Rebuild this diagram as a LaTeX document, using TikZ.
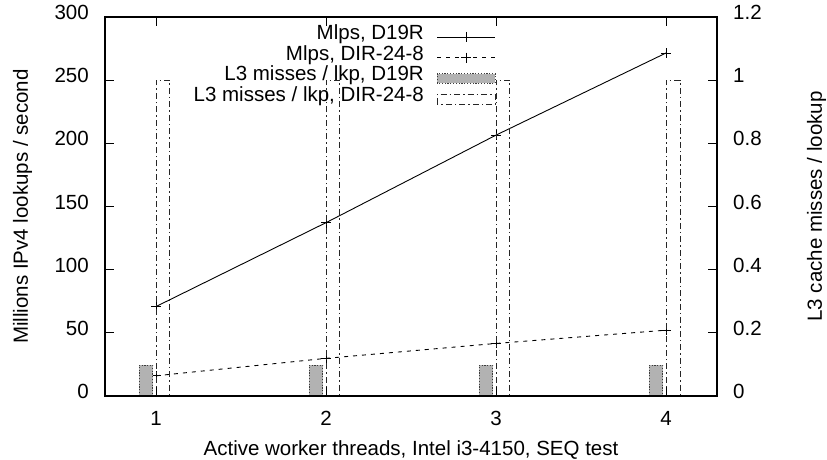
\documentclass[tikz,border=0pt]{standalone}
\usepackage{fontspec}
\setmainfont{Liberation Sans}
\usetikzlibrary{calc}
\definecolor{boxgray}{RGB}{178,178,178}
\definecolor{edgegray}{RGB}{60,60,60}
\tikzset{
	plotframe/.style={line width=1.4pt},
	tickmark/.style={line width=1pt},
	dline/.style={line width=0.9pt},
	ptmark/.style={mark=+, mark size=5pt, mark options={solid, line width=0.9pt}},
	dirdash/.style={dash pattern=on 4pt off 5pt},
	boxdnr/.style={fill=boxgray, draw=edgegray, line width=0.9pt, dash pattern=on 1.2pt off 1.6pt},
	boxdir/.style={draw=black!85, line width=0.9pt, dash pattern=on 6pt off 3pt on 1.5pt off 3pt},
}

\begin{document}
\begin{tikzpicture}[x=170pt, y=1.26333pt, every node/.style={font=\fontsize{20.5}{24}\selectfont, inner sep=0pt}]
	\useasboundingbox (0.08235,-49.87) rectangle (4.94706,313.46);
	\draw[dline] plot[ptmark] coordinates {(1,70.8) (2,137.2) (3,206.5) (4,271.5)};
	\draw[dline, dirdash] plot[ptmark] coordinates {(1,16) (2,29.8) (3,41.6) (4,52.1)};
	\foreach \t in {1,...,4} {
		\draw[boxdnr] (\t-0.1,0) rectangle (\t-0.018,24.5);
		\draw[boxdir] (\t,0) rectangle (\t+0.082,250);
	}
	\draw[plotframe] (0.7,0) rectangle (4.3,300);
	\foreach \t in {1,...,4} {
		\draw[tickmark] (\t,0) -- ++(0,9pt) (\t,300) -- ++(0,-9pt);
		\node[anchor=base] (xt\t) at ($(\t,0)+(0,-29pt)$) {\t};
	}
	\foreach \v in {0,50,...,300} {
		\draw[tickmark] (0.7,\v) -- ++(9pt,0);
		\node[anchor=mid east] (yl\v) at ($(0.7,\v)+(-16pt,0)$) {\v};
	}
	\foreach \v/\l in {0/0,50/0.2,100/0.4,150/0.6,200/0.8,250/1,300/1.2} {
		\draw[tickmark] (4.3,\v) -- ++(-9pt,0);
		\node[anchor=mid west] (yr\v) at ($(4.3,\v)+(16pt,0)$) {\l};
	}
	\node[rotate=90] (ylabel) at (0.2147,150) {Millions IPv4 lookups / second};
	\node[rotate=90] (ytwolabel) at (4.885,150) {L3 cache misses / lookup};
	\node[anchor=base] (xlabel) at ($(2.5,0)+(0,-59pt)$) {Active worker threads, Intel i3-4150, SEQ test};
	\coordinate (leg1) at (2.5765,284.2);
	\path (leg1) ++(0,-20.7pt) coordinate (leg2) ++(0,-20.7pt) coordinate (leg3) ++(0,-20.7pt) coordinate (leg4);
	\node[anchor=mid east] (key1) at (leg1) {Mlps, D19R};
	\node[anchor=mid east] (key2) at (leg2) {Mlps, DIR-24-8};
	\node[anchor=mid east] (key3) at (leg3) {L3 misses / lkp, D19R};
	\node[anchor=mid east] (key4) at (leg4) {L3 misses / lkp, DIR-24-8};
	\draw[dline] ($(leg1)+(13pt,0)$) -- ($(leg1)+(71pt,0)$);
	\draw[dline] plot[ptmark] coordinates {($(leg1)+(42pt,0)$)};
	\draw[dline, dirdash] ($(leg2)+(13pt,0)$) -- ($(leg2)+(71pt,0)$);
	\draw[dline] plot[ptmark] coordinates {($(leg2)+(42pt,0)$)};
	\draw[boxdnr] ($(leg3)+(13pt,-4.7pt)$) rectangle ($(leg3)+(71pt,4.7pt)$);
	\draw[boxdir] ($(leg4)+(13pt,-5pt)$) rectangle ($(leg4)+(71pt,5pt)$);
\end{tikzpicture}
\end{document}
